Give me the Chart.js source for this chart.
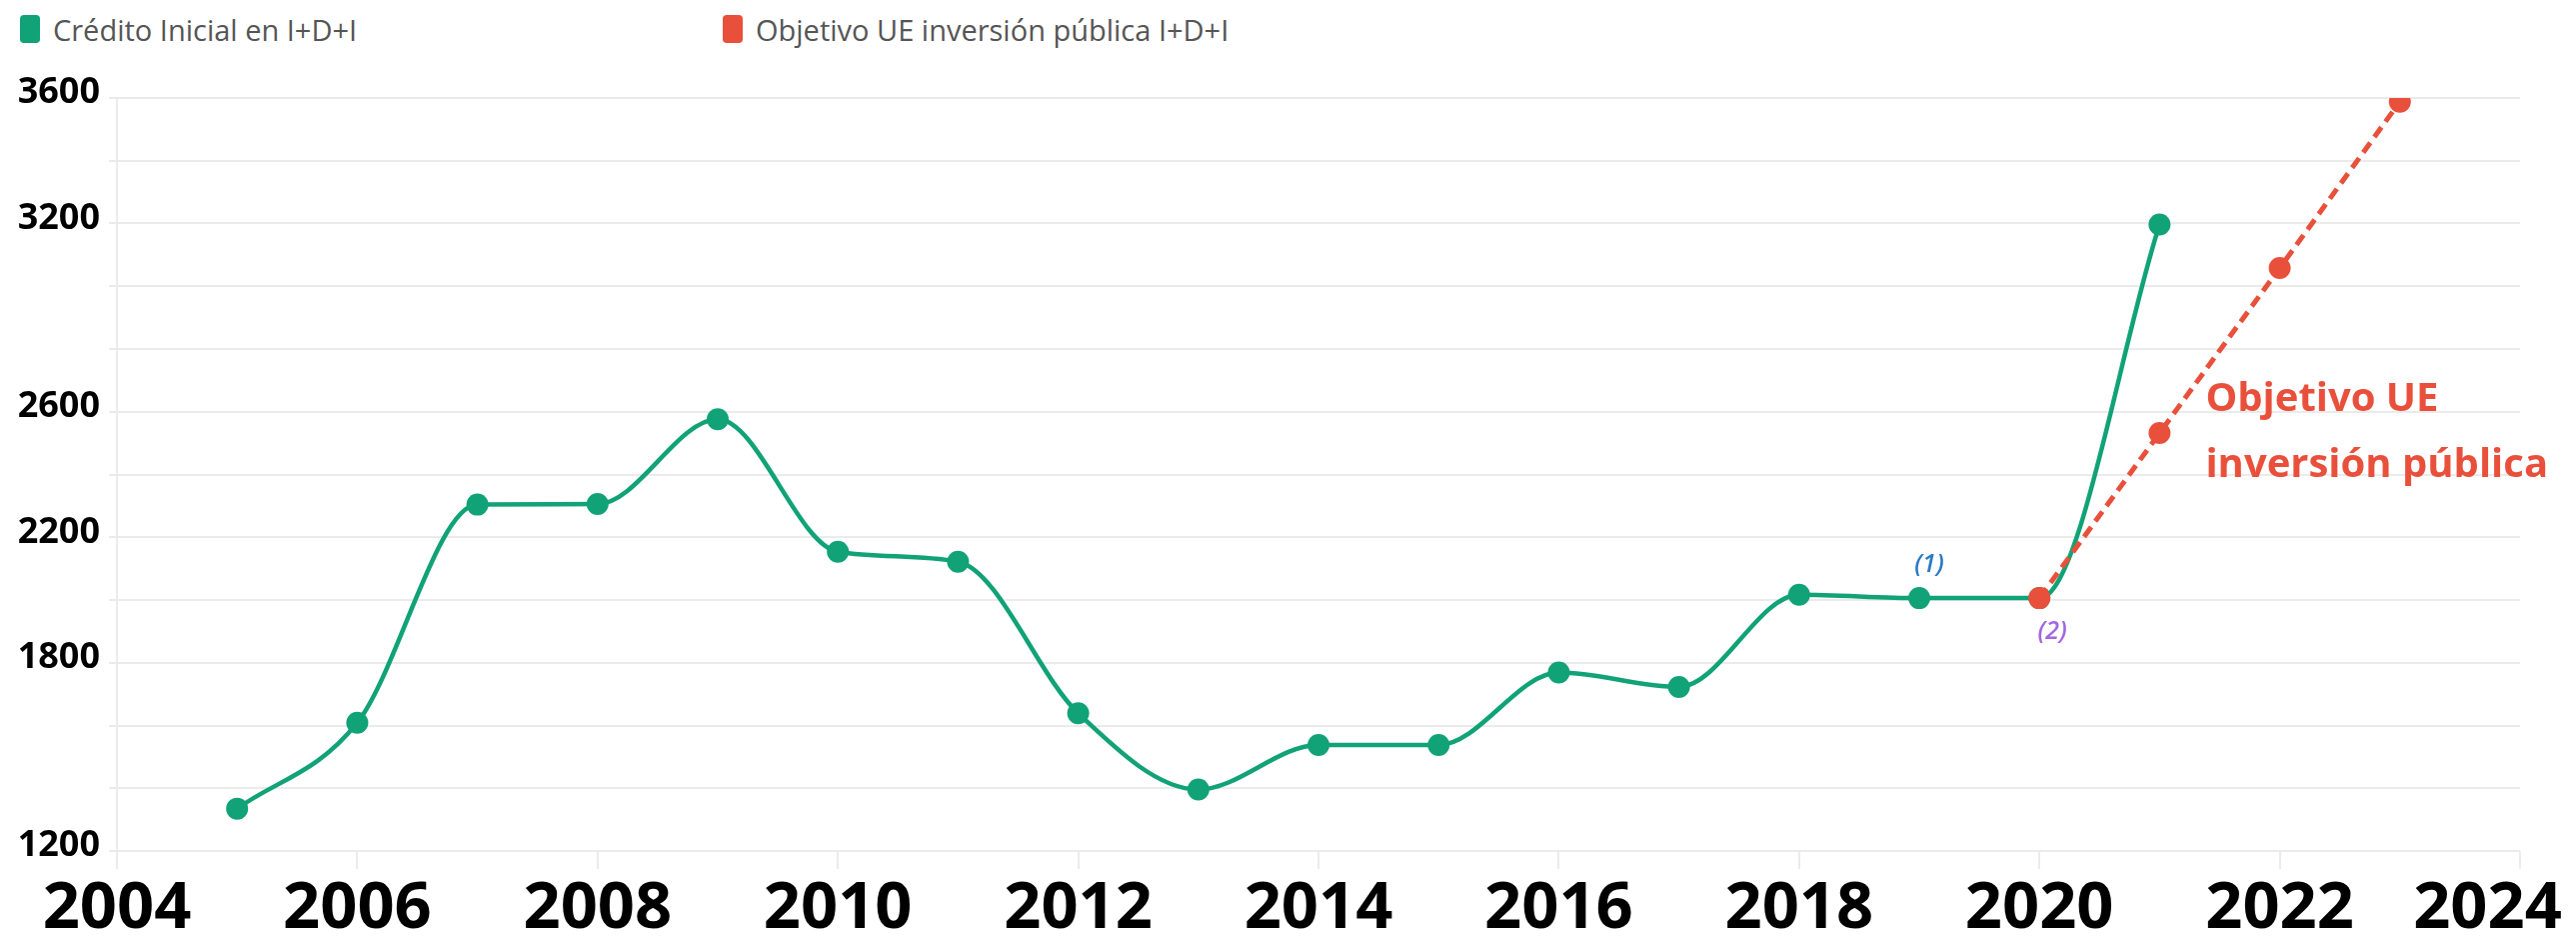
<!DOCTYPE html>
<html>
<head>
<meta charset="utf-8">
<script src="https://cdn.jsdelivr.net/npm/chart.js@4.4.0/dist/chart.umd.min.js"></script>
<style>
  body { margin: 0; background: #fff; }
  #wrap { position: relative; width: 2577px; height: 945px; }
  #legend { position: absolute; top: 0; left: 0; width: 100%; height: 60px; font-family: 'Open Sans', sans-serif; }
  .item { position: absolute; top: 15px; display: flex; align-items: center; height: 28px; }
  .box { width: 20px; height: 28px; border-radius: 4px; margin-right: 13px; }
  .txt { font-size: 29px; color: #555; white-space: nowrap; }
  canvas { position: absolute; top: 0; left: 0; }
</style>
</head>
<body>
<div id="wrap">
  <div id="legend"></div>
  <canvas id="chart" width="2577" height="945"></canvas>
</div>
<script>
// datos
const years = [2005, 2006, 2007, 2008, 2009, 2010, 2011, 2012, 2013, 2014, 2015, 2016, 2017, 2018, 2019, 2020, 2021];
const credito = [1335, 1609, 2304, 2306, 2576, 2154, 2122, 1639, 1396, 1538, 1538, 1769, 1723, 2017, 2006, 2006, 3197];
const objetivoYears = [2020, 2021, 2022, 2023];
const objetivo = [2006, 2532, 3058, 3588];
const yTickLabels = [1200, 1800, 2200, 2600, 3200, 3600];
const seriesNames = ['Crédito Inicial en I+D+I', 'Objetivo UE inversión pública I+D+I'];
const noteTexts = ['(1)', '(2)'];
const calloutLines = ['Objetivo UE', 'inversión pública'];

const GREEN = '#11a277';
const RED = '#e9503b';
const GRID = '#ebebeb';

//leyenda en html
function buildLegend() {
    const lefts = [20, 723];
    const colors = [GREEN, RED];
    const el = document.getElementById('legend');
    seriesNames.forEach((name, i) => {
        const item = document.createElement('div');
        item.className = 'item';
        item.style.left = lefts[i] + 'px';
        item.innerHTML = `<span class="box" style="background:${colors[i]}"></span><span class="txt">${name}</span>`;
        el.appendChild(item);
    });
}

//anotaciones (1), (2) y el texto del objetivo
const notesPlugin = {
    id: 'notes',
    afterDatasetsDraw(chart) {
        const { ctx, scales: { x, y } } = chart;
        const i19 = years.indexOf(2019);
        ctx.save();
        ctx.textAlign = 'center';
        ctx.textBaseline = 'middle';
        ctx.font = 'italic 600 25px "Open Sans"';
        ctx.fillStyle = '#2b7bc4';
        ctx.fillText(noteTexts[0], x.getPixelForValue(years[i19]) + 10, y.getPixelForValue(credito[i19]) - 33);
        ctx.fillStyle = '#a467e3';
        ctx.fillText(noteTexts[1], x.getPixelForValue(objetivoYears[0]) + 13, y.getPixelForValue(objetivo[0]) + 34);

        ctx.textAlign = 'left';
        ctx.font = 'bold 40px "Open Sans"';
        ctx.fillStyle = RED;
        const ax = x.getPixelForValue(objetivoYears[1]) + 46;
        const ay = y.getPixelForValue(objetivo[1]);
        ctx.fillText(calloutLines[0], ax, ay - 33);
        ctx.fillText(calloutLines[1], ax, ay + 33);
        ctx.restore();
    }
};

function initChart() {
    const ctx = document.getElementById('chart').getContext('2d');
    new Chart(ctx, {
        type: 'line',
        data: {
            datasets: [
                {
                    label: seriesNames[1],
                    data: objetivoYears.map((yr, i) => ({ x: yr, y: objetivo[i] })),
                    borderColor: RED,
                    backgroundColor: RED,
                    borderWidth: 5,
                    borderDash: [12, 7],
                    pointRadius: 11,
                    pointBorderWidth: 0,
                    tension: 0,
                    order: 0
                },
                {
                    label: seriesNames[0],
                    data: years.map((yr, i) => ({ x: yr, y: credito[i] })),
                    borderColor: GREEN,
                    backgroundColor: GREEN,
                    borderWidth: 4.5,
                    pointRadius: 11,
                    pointBorderWidth: 0,
                    cubicInterpolationMode: 'monotone',
                    order: 1
                }
            ]
        },
        options: {
            responsive: false,
            animation: false,
            devicePixelRatio: 1,
            layout: { padding: { top: 98, right: 56, bottom: 0, left: 0 } },
            scales: {
                x: {
                    type: 'linear',
                    min: 2004,
                    max: 2024,
                    afterFit: s => { s.height = 94; s.paddingLeft = 0; s.paddingRight = 0; },
                    grid: { drawOnChartArea: false, drawTicks: true, tickLength: 18, color: GRID, lineWidth: 2 },
                    border: { display: false },
                    ticks: {
                        stepSize: 2,
                        padding: 8,
                        maxRotation: 0,
                        color: '#000',
                        font: { family: 'Open Sans', weight: 'bold', size: 65, lineHeight: 1 },
                        // el último rótulo va desplazado hacia dentro
                        callback: v => v === 2024 ? v + '\u2003' : String(v)
                    }
                },
                y: {
                    min: 1200,
                    max: 3600,
                    afterFit: s => { s.width = 117; s.paddingTop = 0; s.paddingBottom = 0; },
                    grid: { color: GRID, lineWidth: 2, tickLength: 8 },
                    border: { color: GRID, width: 2 },
                    ticks: {
                        stepSize: 200,
                        padding: 9,
                        labelOffset: -5,
                        color: '#000',
                        font: { family: 'Open Sans', weight: 'bold', size: 36 },
                        callback: v => yTickLabels.includes(v) ? String(v) : ''
                    }
                }
            },
            plugins: {
                legend: { display: false },
                tooltip: { enabled: false }
            }
        },
        plugins: [notesPlugin]
    });
}

buildLegend();
initChart();
</script>
</body>
</html>
